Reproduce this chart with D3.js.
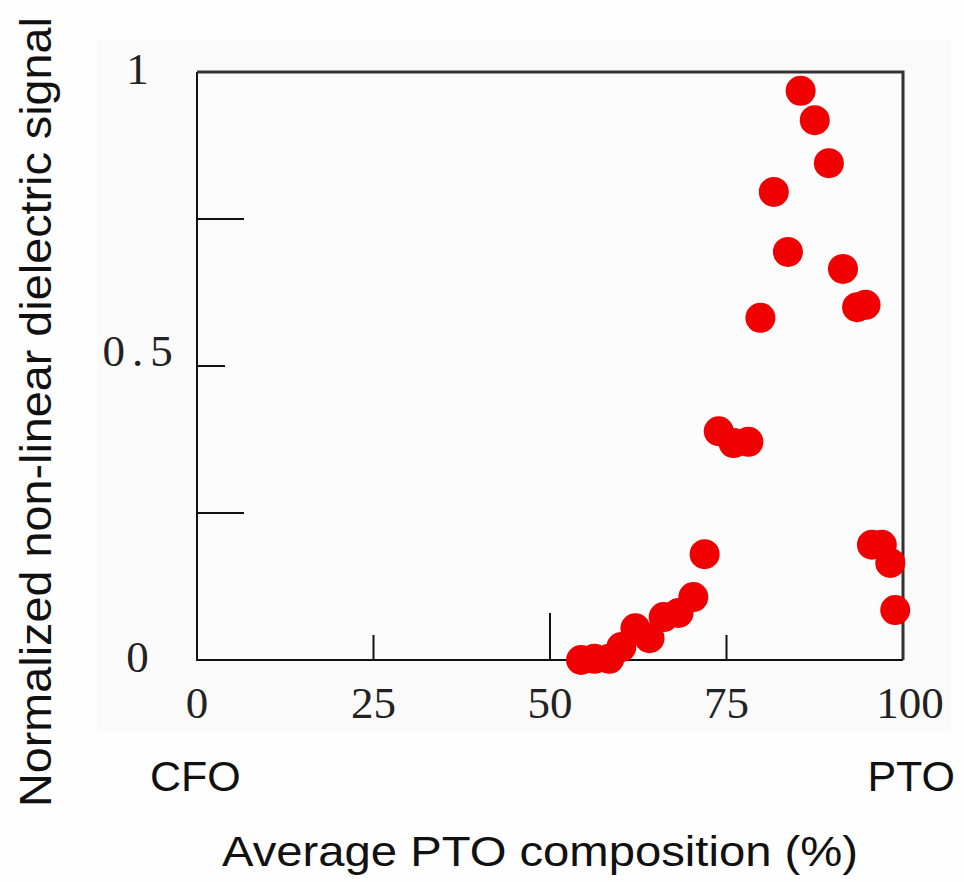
<!DOCTYPE html>
<html>
<head>
<meta charset="utf-8">
<script src="https://cdn.jsdelivr.net/npm/d3@7"></script>
<style>
  body { margin: 0; background: #fefefe; }
  svg { display: block; }
</style>
</head>
<body>
<svg width="964" height="882"></svg>
<script>
// Data
const composition = [54.4, 56.3, 58.4, 60.1, 62.1, 64.1, 66.1, 68.2, 70.3, 71.9,
  73.9, 76.0, 78.1, 79.8, 81.7, 83.7, 85.5, 87.5, 89.5, 91.5,
  93.5, 94.7, 95.6, 97.0, 98.2, 98.9];
const signal = [0.0, 0.002, 0.002, 0.022, 0.054, 0.037, 0.073, 0.080, 0.107, 0.180,
  0.389, 0.369, 0.371, 0.582, 0.796, 0.694, 0.968, 0.918, 0.845, 0.665,
  0.600, 0.604, 0.196, 0.196, 0.165, 0.085];

const xTicks = [0, 25, 50, 75, 100];
const xTickLong = [50];
const yTicks = [0, 0.25, 0.5, 0.75, 1];
const yTickLabels = [0, 0.5, 1];
const yTickLong = [0.25, 0.75];

const svg = d3.select("svg");

const margin = { left: 197, right: 61, top: 72, bottom: 222 };
const width = 964 - margin.left - margin.right;
const height = 882 - margin.top - margin.bottom;

const x = d3.scaleLinear().domain([0, 100]).range([margin.left, margin.left + width]);
const y = d3.scaleLinear().domain([0, 1]).range([margin.top + height, margin.top]);

// faint panel behind the plot
svg.append("rect")
  .attr("x", 97).attr("y", 39)
  .attr("width", 854).attr("height", 693)
  .attr("fill", "#fafafa");

svg.append("rect")
  .attr("x", x(0)).attr("y", y(1))
  .attr("width", x(100) - x(0)).attr("height", y(0) - y(1))
  .attr("fill", "#fcfcfc");

// ticks, pointing inward
svg.append("g")
  .selectAll("line")
  .data(xTicks)
  .join("line")
  .attr("x1", d => x(d)).attr("x2", d => x(d))
  .attr("y1", y(0))
  .attr("y2", d => y(0) - (xTickLong.includes(d) ? 47 : 25))
  .attr("stroke", "#111")
  .attr("stroke-width", 2);

svg.append("g")
  .selectAll("line")
  .data(yTicks)
  .join("line")
  .attr("y1", d => y(d)).attr("y2", d => y(d))
  .attr("x1", x(0))
  .attr("x2", d => x(0) + (yTickLong.includes(d) ? 47 : 28))
  .attr("stroke", "#111")
  .attr("stroke-width", 2);

// frame
svg.append("path")
  .attr("d", `M${x(0)},${y(1)}V${y(0)}H${x(100)}`)
  .attr("fill", "none").attr("stroke", "#111").attr("stroke-width", 2);
svg.append("path")
  .attr("d", `M${x(0)},${y(1)}H${x(100)}V${y(0)}`)
  .attr("fill", "none").attr("stroke", "#333").attr("stroke-width", 3);

// tick labels
svg.append("g")
  .selectAll("text")
  .data(xTicks)
  .join("text")
  .attr("x", d => x(d) + (d === 100 ? 7 : 0))
  .attr("y", 718)
  .attr("text-anchor", "middle")
  .style("font-family", "'Liberation Serif', serif")
  .style("font-size", "45px")
  .attr("fill", "#222")
  .text(d => d);

svg.append("g")
  .selectAll("text")
  .data(yTickLabels)
  .join("text")
  .attr("x", 141)
  .attr("y", d => y(d) + (d === 0.5 ? 0 : 12))
  .attr("text-anchor", "middle")
  .style("font-family", "'Liberation Serif', serif")
  .style("font-size", "45px")
  .style("letter-spacing", "7px")
  .attr("fill", "#222")
  .text(d => d);

// points
svg.append("g")
  .selectAll("circle")
  .data(composition)
  .join("circle")
  .attr("cx", d => x(d))
  .attr("cy", (d, i) => y(signal[i]))
  .attr("r", 15)
  .attr("fill", "#f00000");

// labels
const sans = "'Liberation Sans', Arial, sans-serif";

svg.append("text")
  .attr("x", 150).attr("y", 791)
  .style("font-family", sans).style("font-size", "43px")
  .attr("fill", "#111")
  .text("CFO");

svg.append("text")
  .attr("x", 955).attr("y", 791)
  .attr("text-anchor", "end")
  .style("font-family", sans).style("font-size", "43px")
  .attr("fill", "#111")
  .text("PTO");

svg.append("text")
  .attr("x", 222).attr("y", 866)
  .attr("textLength", 636)
  .attr("lengthAdjust", "spacingAndGlyphs")
  .style("font-family", sans).style("font-size", "43px")
  .attr("fill", "#111")
  .text("Average PTO composition (%)");

svg.append("text")
  .attr("transform", "translate(51,807) rotate(-90)")
  .attr("textLength", 790)
  .attr("lengthAdjust", "spacingAndGlyphs")
  .style("font-family", sans).style("font-size", "45px")
  .attr("fill", "#111")
  .text("Normalized non-linear dielectric signal");
</script>
</body>
</html>
